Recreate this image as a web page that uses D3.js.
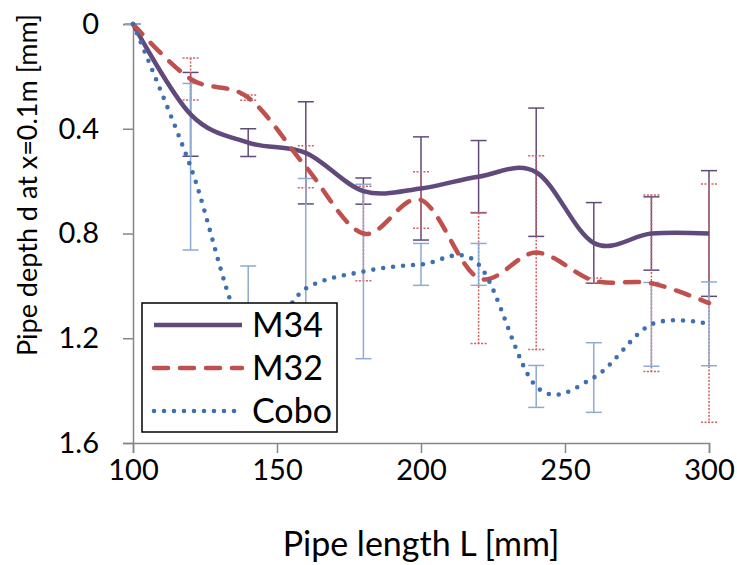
<!DOCTYPE html>
<html>
<head>
<meta charset="utf-8">
<script src="https://cdn.jsdelivr.net/npm/d3@7"></script>
<style>
  body { margin: 0; background: white; }
  text { font-family: Lato, "Open Sans", sans-serif; fill: #000; }
</style>
</head>
<body>
<div id="chart"></div>
<script>
// pipe length L [mm]
const lengths = [100, 120, 140, 160, 180, 200, 220, 240, 260, 280, 300]

// pipe depth d [mm] and error bar half widths
const m34 = [0, 0.345, 0.453, 0.492, 0.638, 0.628, 0.583, 0.566, 0.836, 0.80, 0.80]
const m34Err = [0, 0.16, 0.053, 0.195, 0.05, 0.197, 0.138, 0.245, 0.154, 0.14, 0.24]
const m32 = [0, 0.21, 0.281, 0.545, 0.80, 0.672, 0.97, 0.873, 0.98, 0.99, 1.066]
const m32Err = [0, 0.08, 0.01, 0.08, 0.18, 0.108, 0.25, 0.37, 0.01, 0.337, 0.455]
const cobo = [0, 0.545, 1.2, 1.01, 0.945, 0.918, 0.918, 1.384, 1.35, 1.147, 1.145]
const coboErr = [0, 0.318, 0.276, 0.42, 0.333, 0.08, 0.08, 0.08, 0.133, 0.16, 0.16]

const seriesNames = ['M34', 'M32', 'Cobo']
const xTicks = [100, 150, 200, 250, 300]
const yTicks = [0, 0.4, 0.8, 1.2, 1.6]

const width = 737
const height = 565
const margin = { top: 24, right: 28, bottom: 122, left: 133 }

const series = [
    { name: seriesNames[0], values: m34, err: m34Err, color: '#604A7B', barColor: '#604A7B', dash: null, cap: 'butt', w: 4.5, barDash: null },
    { name: seriesNames[1], values: m32, err: m32Err, color: '#C0504D', barColor: '#D0605D', dash: '14,12', cap: 'round', w: 4.5, barDash: '2,1.5' },
    { name: seriesNames[2], values: cobo, err: coboErr, color: '#3F6FB0', barColor: '#8EA9D2', dash: '0,10', cap: 'round', w: 4.6, barDash: null }
]

const x = d3.scaleLinear().domain([100, 300]).range([margin.left, width - margin.right])
const y = d3.scaleLinear().domain([0, 1.6]).range([margin.top, height - margin.bottom])

const svg = d3.select('#chart')
    .append('svg')
    .attr('width', width)
    .attr('height', height)

// axes
let yAxis = svg.append('g')
    .attr('transform', `translate(${margin.left},0)`)
    .call(d3.axisLeft(y).tickValues(yTicks).tickSize(10).tickPadding(24)
        .tickFormat(d => d === 0 ? '0' : d3.format('.1f')(d)))
let xAxis = svg.append('g')
    .attr('transform', `translate(0,${height - margin.bottom})`)
    .call(d3.axisBottom(x).tickValues(xTicks).tickSize(10).tickPadding(6))

for (let ax of [xAxis, yAxis]) {
    ax.select('.domain').attr('stroke', '#868686').attr('stroke-width', 1.5)
    ax.selectAll('.tick line').attr('stroke', '#868686').attr('stroke-width', 1.5)
    ax.selectAll('.tick text').style('font-size', '29px')
}

// error bars
series.forEach(s => {
    let g = svg.append('g')
        .attr('stroke', s.barColor)
        .attr('stroke-width', 1.5)
        .attr('stroke-dasharray', s.barDash)
    lengths.forEach((L, i) => {
        let lo = y(s.values[i] - s.err[i])
        let hi = y(s.values[i] + s.err[i])
        g.append('line').attr('x1', x(L)).attr('x2', x(L)).attr('y1', lo).attr('y2', hi)
        g.append('line').attr('x1', x(L) - 8).attr('x2', x(L) + 8).attr('y1', lo).attr('y2', lo)
        g.append('line').attr('x1', x(L) - 8).attr('x2', x(L) + 8).attr('y1', hi).attr('y2', hi)
    })
})

// smoothed lines
let lineGen = d3.line()
    .x(d => x(d[0]))
    .y(d => y(d[1]))
    .curve(d3.curveCardinal.tension(0))

series.forEach(s => {
    svg.append('path')
        .datum(lengths.map((L, i) => [L, s.values[i]]))
        .attr('d', lineGen)
        .attr('fill', 'none')
        .attr('stroke', s.color)
        .attr('stroke-width', s.w)
        .attr('stroke-linecap', s.cap)
        .attr('stroke-dasharray', s.dash)
})

// axis titles
svg.append('text')
    .attr('x', (margin.left + width - margin.right) / 2)
    .attr('y', 556)
    .attr('text-anchor', 'middle')
    .style('font-size', '34px')
    .text('Pipe length L [mm]')

svg.append('text')
    .attr('transform', 'translate(37,185) rotate(-90)')
    .attr('text-anchor', 'middle')
    .style('font-size', '27px')
    .text('Pipe depth d at x=0.1m [mm]')

// legend
let legend = svg.append('g').attr('transform', 'translate(142,303)')
legend.append('rect')
    .attr('width', 195)
    .attr('height', 129)
    .attr('fill', 'white')
    .attr('stroke', 'black')
    .attr('stroke-width', 1.5)

series.forEach((s, i) => {
    let ly = 22 + i * 43
    legend.append('line')
        .attr('x1', 12).attr('x2', 100)
        .attr('y1', ly).attr('y2', ly)
        .attr('stroke', s.color)
        .attr('stroke-width', s.w)
        .attr('stroke-linecap', s.cap)
        .attr('stroke-dasharray', s.dash)
    legend.append('text')
        .attr('x', 110)
        .attr('y', ly)
        .attr('dy', '0.36em')
        .style('font-size', '34px')
        .text(s.name)
})
</script>
</body>
</html>
